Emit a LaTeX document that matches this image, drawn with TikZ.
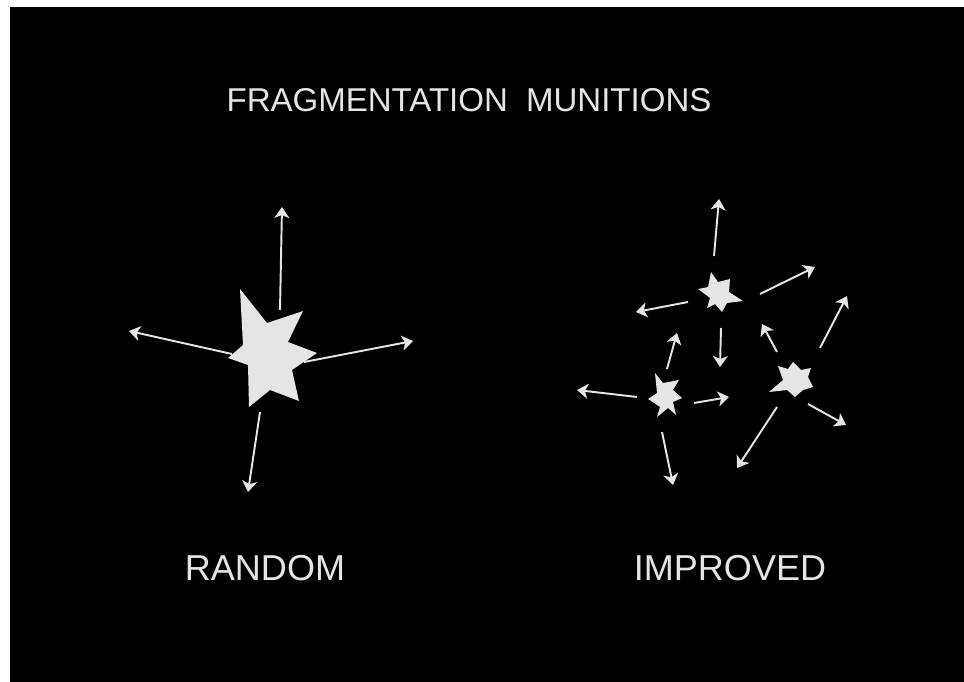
\documentclass[tikz,border=0pt]{standalone}
\usepackage{fontspec}
\setmainfont{Liberation Sans}
\usepackage{xcolor}
\usepackage{tikz}
\usetikzlibrary{arrows.meta}
\definecolor{chalk}{gray}{0.9}
\tikzstyle{frag}    = [fill=chalk, draw=none]
\tikzstyle{arr}     = [-{Stealth[length=0.22cm, width=0.3cm, inset=0.06cm]},
                       line width=1.1pt, draw=chalk, fill=chalk]
\tikzstyle{heading} = [text=chalk, inner sep=0pt,
                       font=\fontsize{18.8}{23}\selectfont]
\tikzstyle{caption} = [text=chalk, inner sep=0pt,
                       font=\fontsize{20.5}{24}\selectfont]

\begin{document}
\begin{tikzpicture}[x=0.02cm, y=-0.02cm]

  \useasboundingbox (0,0) rectangle (964,682);
  \fill[black] (10,7) rectangle (964,682);

  \node[heading] (title) at (469,100) {FRAGMENTATION\hspace{0.55em}MUNITIONS};
  \node[caption] (random) at (265,568) {RANDOM};
  \node[caption] (improved) at (730,568) {IMPROVED};

  % random: one big fragment
  \fill[frag] (240,289) -- (267,323) -- (303,311) -- (288,342) -- (317,353)
      -- (292,370) -- (299,401) -- (270,390) -- (249,407) -- (248,365)
      -- (228,358) -- (243,345) -- cycle;

  \coordinate (bu) at (280,310);  \coordinate (bu-t) at (282,207);
  \coordinate (bl) at (232,354);  \coordinate (bl-t) at (129,331);
  \coordinate (br) at (304,362);  \coordinate (br-t) at (413,341);
  \coordinate (bd) at (260,412);  \coordinate (bd-t) at (248,492);
  \draw[arr] (bu) -- (bu-t);
  \draw[arr] (bl) -- (bl-t);
  \draw[arr] (br) -- (br-t);
  \draw[arr] (bd) -- (bd-t);

  % improved: three small fragments
  \fill[frag] (711,272) -- (718,282) -- (730,279) -- (729,292) -- (743,301)
      -- (727,303) -- (722,312) -- (715,304) -- (707,308) -- (710,298)
      -- (698,289) -- (708,287) -- cycle;
  \fill[frag] (655,373) -- (663,383) -- (679,380) -- (673,390) -- (682,398)
      -- (673,402) -- (676,415) -- (668,408) -- (657,417) -- (660,407)
      -- (648,399) -- (657,393) -- cycle;
  \fill[frag] (778,366) -- (788,369) -- (793,362) -- (801,370) -- (811,368)
      -- (808,377) -- (813,387) -- (803,390) -- (795,397) -- (787,390)
      -- (769,392) -- (783,380) -- cycle;

  \coordinate (a1) at (714,256);  \coordinate (a1-t) at (719,199);
  \coordinate (a2) at (688,302);  \coordinate (a2-t) at (636,312);
  \coordinate (a3) at (760,294);  \coordinate (a3-t) at (815,267);
  \coordinate (a4) at (721,328);  \coordinate (a4-t) at (720,367);
  \draw[arr] (a1) -- (a1-t);
  \draw[arr] (a2) -- (a2-t);
  \draw[arr] (a3) -- (a3-t);
  \draw[arr] (a4) -- (a4-t);

  \coordinate (b1) at (667,369);  \coordinate (b1-t) at (677,333);
  \coordinate (b2) at (637,397);  \coordinate (b2-t) at (577,390);
  \coordinate (b3) at (694,403);  \coordinate (b3-t) at (729,397);
  \coordinate (b4) at (662,432);  \coordinate (b4-t) at (673,485);
  \draw[arr] (b1) -- (b1-t);
  \draw[arr] (b2) -- (b2-t);
  \draw[arr] (b3) -- (b3-t);
  \draw[arr] (b4) -- (b4-t);

  \coordinate (c1) at (777,352);  \coordinate (c1-t) at (762,324);
  \coordinate (c2) at (820,348);  \coordinate (c2-t) at (847,296);
  \coordinate (c3) at (777,407);  \coordinate (c3-t) at (737,468);
  \coordinate (c4) at (808,404);  \coordinate (c4-t) at (846,425);
  \draw[arr] (c1) -- (c1-t);
  \draw[arr] (c2) -- (c2-t);
  \draw[arr] (c3) -- (c3-t);
  \draw[arr] (c4) -- (c4-t);

\end{tikzpicture}
\end{document}
